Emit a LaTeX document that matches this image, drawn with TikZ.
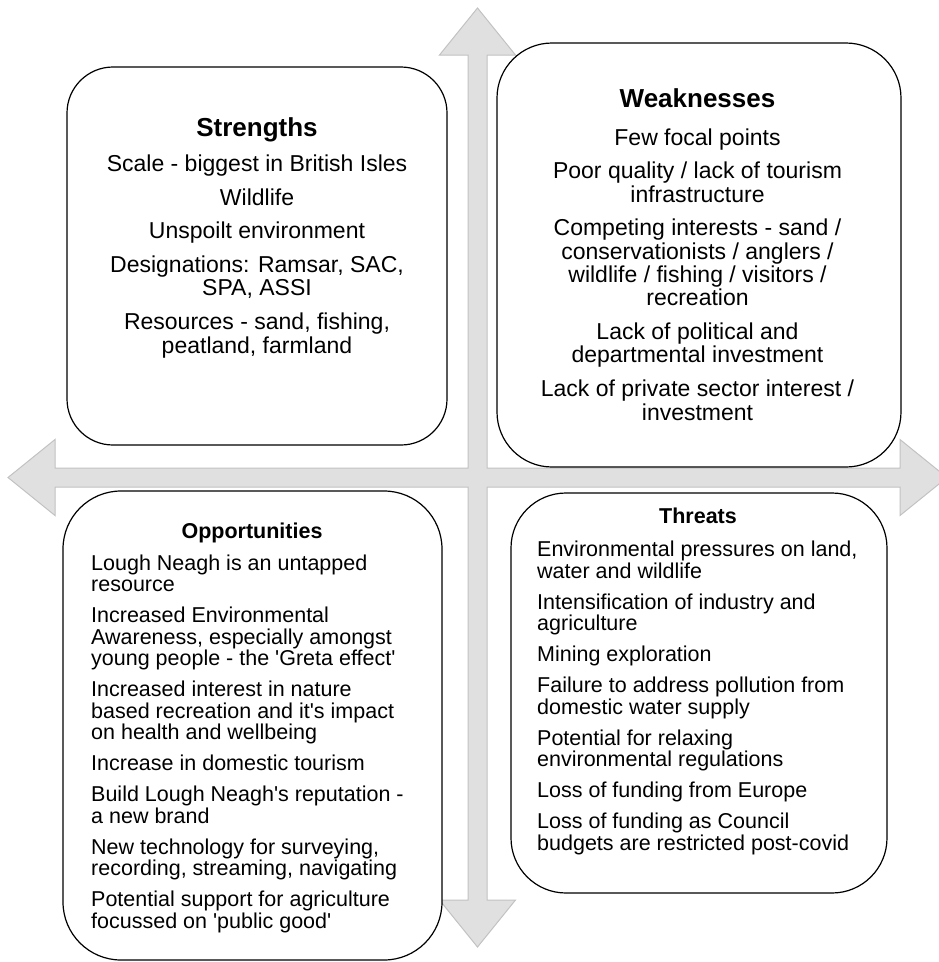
\documentclass[tikz,border=0pt]{standalone}
\usepackage{fontspec}
\setmainfont{Liberation Sans}
\definecolor{crossfill}{HTML}{E0E0E0}
\definecolor{crossline}{HTML}{C2C2C2}
\newcommand{\sq}{\textquotesingle}

\begin{document}
\begin{tikzpicture}[x=1pt,y=-1pt,
    swotbox/.style={draw=black,line width=1.2pt,fill=white,rounded corners=50pt,inner sep=0pt},
    bigtitle/.style={font=\fontsize{26}{26}\selectfont\bfseries,anchor=base,inner sep=0pt},
    smalltitle/.style={font=\fontsize{21.5}{21.5}\selectfont\bfseries,anchor=base,inner sep=0pt},
    bigtext/.style={font=\fontsize{23}{23.3}\selectfont,align=center,anchor=base,inner sep=0pt},
    smalltext/.style={font=\fontsize{21.5}{21.5}\selectfont,align=left,anchor=base west,inner sep=0pt}]
            \useasboundingbox (0,0) rectangle (938,962);

            % Cross
            \filldraw[fill=crossfill,draw=crossline,line width=1pt]
            (477.5,8) -- (515.5,55) -- (487,55) -- (487,468) -- (900,468) -- (900,439.5)
            -- (947,477.5) -- (900,515.5) -- (900,487) -- (487,487) -- (487,900) -- (515.5,900)
            -- (477.5,947) -- (439.5,900) -- (468,900) -- (468,487) -- (55,487) -- (55,515.5)
            -- (8,477.5) -- (55,439.5) -- (55,468) -- (468,468) -- (468,55) -- (439.5,55) -- cycle;

            % Boxes
            \node[swotbox,minimum width=380,minimum height=378,rounded corners=46pt] (strbox) at (257,256) {};
            \node[swotbox,minimum width=404,minimum height=424,rounded corners=55pt] (weakbox) at (699,255) {};
            \node[swotbox,minimum width=379,minimum height=469,rounded corners=58pt] (oppbox) at (252.5,725.5) {};
            \node[swotbox,minimum width=376,minimum height=400,rounded corners=55pt] (thrbox) at (699,693) {};

            % Strengths (text nodes sit on their last line)
            \node[bigtitle] (strtitle) at (257,136) {Strengths};
            \node[bigtext] (strtext) at (257,353) {Scale - biggest in British Isles\\[10.5pt]
            Wildlife\\[10.5pt]
            Unspoilt environment\\[10.5pt]
            Designations: Ramsar, SAC,\\SPA, ASSI\\[10.5pt]
            Resources - sand, fishing,\\peatland, farmland};

            % Weaknesses
            \node[bigtitle] (weaktitle) at (697.5,107) {Weaknesses};
            \node[bigtext] (weaktext) at (697.5,420) {Few focal points\\[10.5pt]
            Poor quality / lack of tourism\\infrastructure\\[10.5pt]
            Competing interests - sand /\\conservationists / anglers /\\wildlife / fishing / visitors /\\recreation\\[10.5pt]
            Lack of political and\\departmental investment\\[10.5pt]
            Lack of private sector interest /\\investment};

            % Opportunities
            \node[smalltitle] (opptitle) at (252,538) {Opportunities};
            \node[smalltext] (opptext) at (91,928) {Lough Neagh is an untapped\\resource\\[9.5pt]
            Increased Environmental\\Awareness, especially amongst\\young people - the \sq Greta effect\sq\\[9.5pt]
            Increased interest in nature\\based recreation and it\sq s impact\\on health and wellbeing\\[9.5pt]
            Increase in domestic tourism\\[9.5pt]
            Build Lough Neagh\sq s reputation -\\a new brand\\[9.5pt]
            New technology for surveying,\\recording, streaming, navigating\\[9.5pt]
            Potential support for agriculture\\focussed on \sq public good\sq};

            % Threats
            \node[smalltitle] (thrtitle) at (698,523) {Threats};
            \node[smalltext] (thrtext) at (537,850) {Environmental pressures on land,\\water and wildlife\\[9.5pt]
            Intensification of industry and\\agriculture\\[9.5pt]
            Mining exploration\\[9.5pt]
            Failure to address pollution from\\domestic water supply\\[9.5pt]
            Potential for relaxing\\environmental regulations\\[9.5pt]
            Loss of funding from Europe\\[9.5pt]
            Loss of funding as Council\\budgets are restricted post-covid};
        \end{tikzpicture}
\end{document}
